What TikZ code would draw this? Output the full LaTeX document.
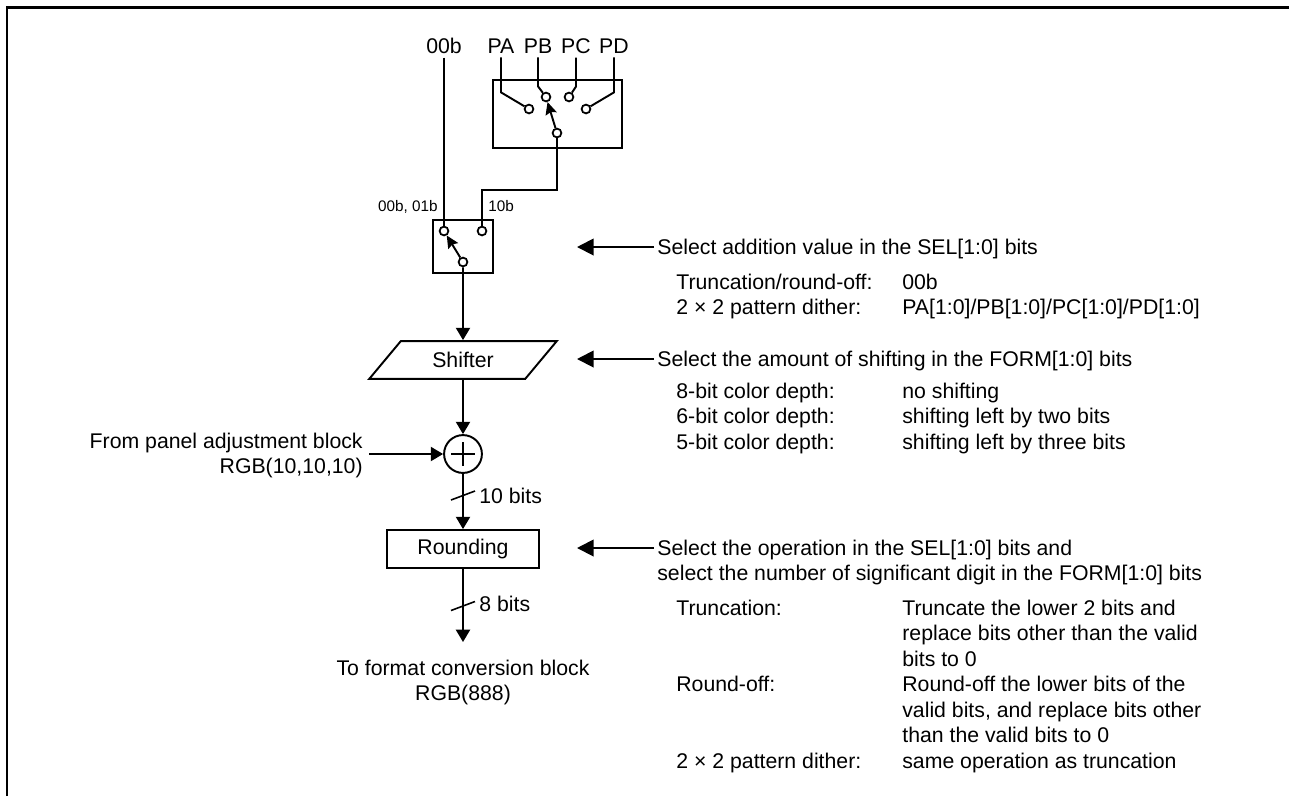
\documentclass[tikz,border=0pt]{standalone}
\usepackage{fontspec}
\setmainfont{Liberation Sans}
\usetikzlibrary{arrows.meta,shapes.geometric}

\def\px{0.5669pt}

\tikzset{
    contact/.style={circle, draw, fill=white, line width=1pt, inner sep=0pt, minimum size=5pt},
    txt/.style={inner sep=0pt, font=\fontsize{12.1}{14.5}\selectfont},
    txtsmall/.style={inner sep=0pt, font=\fontsize{8.7}{10}\selectfont},
    rowtext/.style={txt, anchor=base west},
    wire/.style={line width=1.1pt},
    flow/.style={line width=1.1pt, -{Stealth[length=7pt, width=8pt, inset=0pt]}},
    swingflow/.style={line width=1.1pt, -{Stealth[length=7pt, width=6.5pt, inset=1pt]}},
    ctrlflow/.style={line width=1.1pt, -{Stealth[length=9.5pt, width=9.5pt, inset=0pt]}},
    blockbox/.style={draw, line width=1.1pt, inner sep=0pt}
}

\begin{document}
\begin{tikzpicture}[x=0.02cm, y=-0.02cm]

\useasboundingbox (0,0) rectangle (1289,796);

% Frame

\draw[
    line width=1.7pt
] (7,796) -- (7,7) -- (1289,7);


% Boxes

\node[blockbox, minimum width=129*\px, minimum height=68*\px] (patbox) at (557.5,114) {};
\node[blockbox, minimum width=60*\px, minimum height=53*\px] (selbox) at (463,246.5) {};

\node[
    blockbox,
    txt,
    shape=trapezium,
    trapezium left angle=45,
    trapezium right angle=135,
    trapezium stretches=true,
    minimum width=189*\px,
    minimum height=38*\px
] (shifter) at (463,360) {Shifter};

\node[blockbox, txt, minimum width=152*\px, minimum height=38*\px] (rounding) at (463,549) {Rounding};

\node[circle, draw, line width=1.1pt, inner sep=0pt, minimum size=38*\px] (adder) at (463,454) {};
\draw[line width=0.9pt] (adder.center) ++(-12,0) -- ++(24,0);
\draw[line width=0.9pt] (adder.center) ++(0,-12) -- ++(0,24);


% Contacts

\node[contact] (ca) at (529,109) {};
\node[contact] (cb) at (546,97) {};
\node[contact] (cc) at (569,97) {};
\node[contact] (cd) at (586,109) {};
\node[contact] (cpat) at (557,133) {};
\node[contact] (czero) at (444,231) {};
\node[contact] (cten) at (482,231) {};
\node[contact] (csel) at (463,262) {};

\coordinate (bend) at (482,190);


% Inputs

\node[txt, anchor=base] (zero) at (444,53) {00b};
\node[txt, anchor=base] (pa) at (501,53) {PA};
\node[txt, anchor=base] (pb) at (538,53) {PB};
\node[txt, anchor=base] (pc) at (576,53) {PC};
\node[txt, anchor=base] (pd) at (614,53) {PD};

\draw[wire] (pa.south) ++(0,4) -- ++(0,35) -- (ca);
\draw[wire] (pb.south) ++(0,4) -- ++(0,29) -- (cb);
\draw[wire] (pc.south) ++(0,4) -- ++(0,29) -- (cc);
\draw[wire] (pd.south) ++(0,4) -- ++(0,35) -- (cd);
\draw[wire] (zero.south) ++(0,4) -- (czero);

\draw[swingflow] (cpat) -- (cb);
\draw[wire] (cpat) |- (bend) -- (cten);
\draw[swingflow] (csel) -- (czero);

\node[txtsmall, anchor=base east] (lzero) at (438,211) {00b, 01b};
\node[txtsmall, anchor=base west] (lten) at (488,211) {10b};


% Data path

\draw[flow] (csel) -- (shifter.north);
\draw[flow] (shifter.south) -- (adder.north);
\draw[flow] (adder.south) -- (rounding.north);

\node[txt, anchor=base east] (frompanel) at (363,448) {From panel adjustment block};
\node[txt, anchor=base east] (fromrgb) at (363,473.5) {RGB(10,10,10)};
\coordinate (fromend) at (369,454);
\draw[flow] (fromend) -- (adder.west);

\coordinate (slashten) at (463,495.5);
\draw[line width=0.9pt] (slashten) ++(-12,4.5) -- ++(24,-9);
\node[txt, anchor=base west] (tenbits) at (479,503) {10 bits};

\node[txt, anchor=base] (toformat) at (463,675) {To format conversion block};
\node[txt, anchor=base] (torgb) at (463,700) {RGB(888)};
\coordinate (toend) at (463,642);
\draw[flow] (rounding.south) -- (toend);

\coordinate (slasheight) at (463,606);
\draw[line width=0.9pt] (slasheight) ++(-12,4.5) -- ++(24,-9);
\node[txt, anchor=base west] (eightbits) at (479,611) {8 bits};


% Addition value

\node[rowtext] (heada) at (657,254) {Select addition value in the SEL[1:0] bits};
\coordinate (tipa) at (577,247);
\draw[ctrlflow] (heada.west |- tipa) ++(-3,0) -- (tipa);

\node[rowtext] (rowaa) at (676,289) {Truncation/round-off:};
\node[rowtext] (rowab) at (902,289) {00b};
\node[rowtext] (rowba) at (676,314.5) {2 × 2 pattern dither:};
\node[rowtext] (rowbb) at (902,314.5) {PA[1:0]/PB[1:0]/PC[1:0]/PD[1:0]};


% Shifting

\node[rowtext] (headb) at (657,366) {Select the amount of shifting in the FORM[1:0] bits};
\coordinate (tipb) at (577,359);
\draw[ctrlflow] (headb.west |- tipb) ++(-3,0) -- (tipb);

\node[rowtext] (rowca) at (676,398) {8-bit color depth:};
\node[rowtext] (rowcb) at (902,398) {no shifting};
\node[rowtext] (rowda) at (676,423.5) {6-bit color depth:};
\node[rowtext] (rowdb) at (902,423.5) {shifting left by two bits};
\node[rowtext] (rowea) at (676,449) {5-bit color depth:};
\node[rowtext] (roweb) at (902,449) {shifting left by three bits};


% Operation

\node[rowtext] (headc) at (657,555) {Select the operation in the SEL[1:0] bits and};
\node[rowtext] (headd) at (657,580.5) {select the number of significant digit in the FORM[1:0] bits};
\coordinate (tipc) at (577,548);
\draw[ctrlflow] (headc.west |- tipc) ++(-3,0) -- (tipc);

\node[rowtext] (rowfa) at (676,615) {Truncation:};
\node[rowtext] (rowfb) at (902,615) {Truncate the lower 2 bits and};
\node[rowtext] (rowfc) at (902,640.5) {replace bits other than the valid};
\node[rowtext] (rowfd) at (902,666) {bits to 0};
\node[rowtext] (rowga) at (676,691.5) {Round-off:};
\node[rowtext] (rowgb) at (902,691.5) {Round-off the lower bits of the};
\node[rowtext] (rowgc) at (902,717) {valid bits, and replace bits other};
\node[rowtext] (rowgd) at (902,742.5) {than the valid bits to 0};
\node[rowtext] (rowha) at (676,768) {2 × 2 pattern dither:};
\node[rowtext] (rowhb) at (902,768) {same operation as truncation};

\end{tikzpicture}
\end{document}
